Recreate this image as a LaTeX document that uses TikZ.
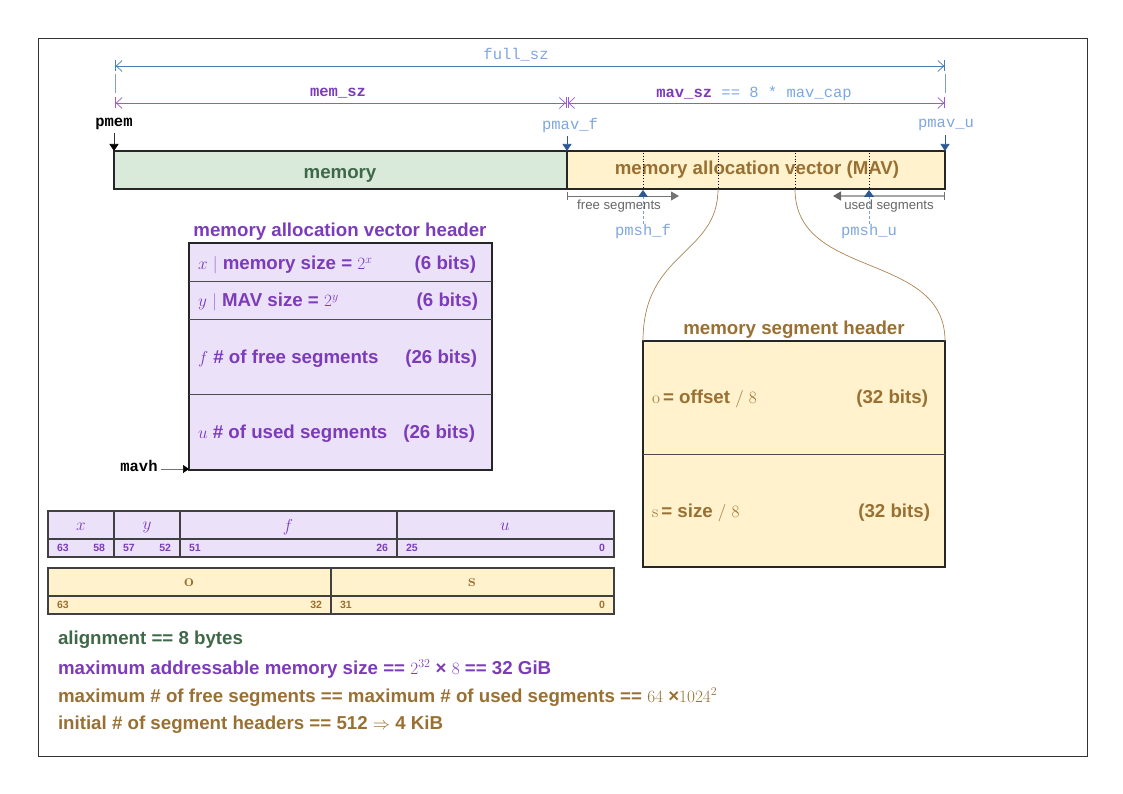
\documentclass[tikz,border=0pt]{standalone}
\usepackage[no-math]{fontspec}
\setmainfont{Liberation Sans}
\setmonofont{Liberation Mono}
\usetikzlibrary{arrows.meta, positioning, calc}

\definecolor{mavpurple}{RGB}{124,60,186}
\definecolor{barpurple}{RGB}{150,105,205}
\definecolor{dimpurple}{RGB}{155,89,208}
\definecolor{ptrblue}{RGB}{126,166,224}
\definecolor{dimblue}{RGB}{74,122,176}
\definecolor{tipblue}{RGB}{44,88,148}
\definecolor{segbrown}{RGB}{153,112,51}
\definecolor{curvebrown}{RGB}{170,132,84}
\definecolor{memgreen}{RGB}{62,104,72}
\definecolor{memfill}{RGB}{217,234,219}
\definecolor{mavfill}{RGB}{255,242,204}
\definecolor{hdrfill}{RGB}{235,226,250}

\begin{document}
\begin{tikzpicture}[x=1pt, y=-1pt,
    every node/.style={inner sep=0pt, outer sep=0pt},
    bigtxt/.style={font=\fontsize{18.7}{22}\selectfont\bfseries, yshift=-2pt},
    numtxt/.style={font=\fontsize{10.5}{12}\selectfont\bfseries},
    codetxt/.style={font=\fontsize{15.5}{18}\selectfont\ttfamily},
    dimline/.style={line width=0.7pt, {Bar[width=11pt]Straight Barb[length=6pt,width=11pt]}-{Straight Barb[length=6pt,width=11pt]Bar[width=11pt]}},
    ptrline/.style={line width=0.7pt, -{Triangle[length=7pt,width=9pt]}},
    block/.style={draw=black!85, line width=1.6pt, anchor=north west},
    cell/.style={draw=black!75, line width=1.2pt}
  ]
  \useasboundingbox (0,0) rectangle (1123,794);
  \draw[black!80, line width=0.9pt] (38,38) rectangle (1087,756);

  % sizes
  \coordinate (fullL) at (115,66);
  \coordinate (fullR) at (945,66);
  \coordinate (memL) at (115,103);
  \coordinate (memR) at (566.5,103);
  \coordinate (mavL) at (567.5,103);
  \coordinate (mavR) at (945,103);
  \draw[dimline, dimblue] (fullL) -- (fullR);
  \draw[ptrblue!80!gray, line width=0.6pt] ($(fullL)+(0,8)$) -- ($(memL)+(0,-10)$);
  \draw[ptrblue!80!gray, line width=0.6pt] ($(fullR)+(0,8)$) -- ($(mavR)+(0,-10)$);
  \draw[dimline, dimpurple] (memL) -- (memR);
  \draw[dimline, dimpurple] (mavL) -- (mavR);
  \node[codetxt, text=ptrblue] (fullsz) at (516,55) {full\_sz};
  \node[codetxt, text=mavpurple, font=\fontsize{15.5}{18}\selectfont\ttfamily\bfseries] (memsz) at (338,93) {mem\_sz};
  \node[codetxt, text=ptrblue] (mavsz) at (754,93) {{\bfseries\color{mavpurple}mav\_sz} == 8 * mav\_cap};

  % memory bar
  \node[block, fill=memfill, minimum width=453pt, minimum height=38pt] (mem) at (114,151) {};
  \node[block, fill=mavfill, minimum width=378pt, minimum height=38pt] (mav) at (567,151) {};
  \node[bigtxt, text=memgreen] (memlbl) at (340,173) {memory};
  \node[bigtxt, text=segbrown] (mavlbl) at (757,168) {memory allocation vector (MAV)};
  \foreach \dx in {643,718,795,869}
    \draw[dotted, line width=0.8pt] (\dx,153) -- (\dx,188);

  % pointers
  \node[codetxt, font=\fontsize{15.5}{18}\selectfont\ttfamily\bfseries] (pmem) at (114,124) {pmem};
  \node[codetxt, text=ptrblue] (pmavf) at (570,125) {pmav\_f};
  \node[codetxt, text=ptrblue] (pmavu) at (946,125) {pmav\_u};
  \draw[ptrline, black!80, -{Triangle[black, length=7pt, width=9pt]}] ($(pmem.south)+(0,3)$) -- (mem.north west);
  \draw[ptrline, tipblue] (mav.north west |- pmavf.south) ++(0,4) -- (mav.north west);
  \draw[ptrline, tipblue] (mav.north east |- pmavu.south) ++(0,4) -- (mav.north east);

  % free / used segments
  \coordinate (freeL) at (567,196);
  \coordinate (freeR) at (679,196);
  \coordinate (usedL) at (833,196);
  \coordinate (usedR) at (945,196);
  \draw[black!55, line width=0.8pt, {Bar[width=8pt]}-{Triangle[length=8pt,width=9pt]}] (freeL) -- (freeR);
  \draw[black!35, line width=1.3pt, {Triangle[black!60,length=8pt,width=9pt]}-{Bar[black!55,width=8pt]}] (usedL) -- (usedR);
  \node[font=\fontsize{13.2}{15}\selectfont, text=black!60] (freetxt) at (619,206) {free segments};
  \node[font=\fontsize{13.2}{15}\selectfont, text=black!60] (usedtxt) at (889,206) {used segments};
  \coordinate (slotf) at (643,190);
  \coordinate (slotu) at (869,190);
  \node[codetxt, text=ptrblue] (pmshf) at (643,231) {pmsh\_f};
  \node[codetxt, text=ptrblue] (pmshu) at (869,231) {pmsh\_u};
  \draw[ptrblue!80!gray, line width=0.8pt, dash pattern=on 3pt off 2pt, -{Triangle[tipblue, length=7pt, width=10pt]}] (pmshf.north) -- (slotf);
  \draw[ptrblue!80!gray, line width=0.8pt, dash pattern=on 3pt off 2pt, -{Triangle[tipblue, length=7pt, width=10pt]}] (pmshu.north) -- (slotu);

  % memory allocation vector header
  \node[bigtxt, text=mavpurple] (mavtitle) at (340,230) {memory allocation vector header};
  \node[block, fill=hdrfill, minimum width=303pt, minimum height=227pt] (mavhdr) at (189,243) {};
  \foreach \dy in {281,319,394}
    \draw[black!70, line width=1pt] (189,\dy) -- (492,\dy);
  \node[bigtxt, text=mavpurple, anchor=west] (hx) at (198,263) {$x$ {\color{barpurple}$|$} memory size = $2^x$};
  \node[bigtxt, text=mavpurple, anchor=east] (hxbits) at (476,263) {(6 bits)};
  \node[bigtxt, text=mavpurple, anchor=west] (hy) at (198,300) {$y$ {\color{barpurple}$|$} MAV size = $2^y$};
  \node[bigtxt, text=mavpurple, anchor=east] (hybits) at (478,300) {(6 bits)};
  \node[bigtxt, text=mavpurple, anchor=west] (hf) at (198,357) {$f$ \# of free segments};
  \node[bigtxt, text=mavpurple, anchor=east] (hfbits) at (477,357) {(26 bits)};
  \node[bigtxt, text=mavpurple, anchor=west] (hu) at (198,432) {$u$ \# of used segments};
  \node[bigtxt, text=mavpurple, anchor=east] (hubits) at (475,432) {(26 bits)};
  \node[codetxt, font=\fontsize{15.5}{18}\selectfont\ttfamily\bfseries] (mavh) at (139,466) {mavh};
  \draw[black!55, line width=0.7pt, -{Triangle[black, length=6pt, width=8pt]}] ($(mavh.east |- mavhdr.south west)+(3,-1)$) -- ($(mavhdr.south west)+(0,-1)$);

  % memory segment header
  \node[bigtxt, text=segbrown] (segtitle) at (794,328) {memory segment header};
  \node[block, fill=mavfill, minimum width=302pt, minimum height=226pt] (seghdr) at (643,341) {};
  \draw[black!70, line width=1pt] (643,454) -- (945,454);
  \node[bigtxt, text=segbrown, anchor=west] (so) at (652,397) {$\mathrm{o}$\,= offset $/\ 8$};
  \node[bigtxt, text=segbrown, anchor=east] (sobits) at (928,397) {(32 bits)};
  \node[bigtxt, text=segbrown, anchor=west] (ss) at (652,511) {$\mathrm{s}$\,= size $/\ 8$};
  \node[bigtxt, text=segbrown, anchor=east] (ssbits) at (930,511) {(32 bits)};
  \coordinate (cutL) at (718,189);
  \coordinate (cutR) at (795,189);
  \draw[curvebrown, line width=0.7pt] (cutL) .. controls +(0,66) and +(0,-90) .. (seghdr.north west);
  \draw[curvebrown, line width=0.7pt] (cutR) .. controls +(0,91) and +(0,-90) .. (seghdr.north east);

  % bit layouts
  \node[cell, fill=hdrfill, minimum width=566pt, minimum height=46pt, anchor=north west] (bitsh) at (48,511) {};
  \draw[cell] (48,539) -- (614,539);
  \foreach \cx in {114,180,397}
    \draw[cell] (\cx,511) -- (\cx,557);
  \foreach \cx/\lbl in {81/x, 147/y, 288/f, 505/u}
    \node[font=\fontsize{19}{22}\selectfont, text=mavpurple] (bit\lbl) at (\cx,527) {$\lbl$};
  \foreach \xa/\xb/\na/\nb in {48/114/63/58, 114/180/57/52, 180/397/51/26, 397/614/25/0} {
    \node[numtxt, text=mavpurple, anchor=west] (hn\na) at (\xa+9,548) {\na};
    \node[numtxt, text=mavpurple, anchor=east] (hn\nb) at (\xb-9,548) {\nb};
  }
  \node[cell, fill=mavfill, minimum width=566pt, minimum height=46pt, anchor=north west] (bitss) at (48,568) {};
  \draw[cell] (48,596) -- (614,596);
  \draw[cell] (331,568) -- (331,614);
  \node[font=\fontsize{18}{20}\selectfont, text=segbrown] (bito) at (189,583) {$\mathbf{o}$};
  \node[font=\fontsize{18}{20}\selectfont, text=segbrown] (bits) at (472,583) {$\mathbf{s}$};
  \foreach \xa/\xb/\na/\nb in {48/331/63/32, 331/614/31/0} {
    \node[numtxt, text=segbrown, anchor=west] (sn\na) at (\xa+9,605) {\na};
    \node[numtxt, text=segbrown, anchor=east] (sn\nb) at (\xb-9,605) {\nb};
  }

  % notes
  \node[bigtxt, text=memgreen, anchor=west] (note1) at (58,638) {alignment == 8 bytes};
  \node[bigtxt, text=mavpurple, anchor=west] (note2) at (58,667) {maximum addressable memory size == $2^{32}$ × $8$ == 32 GiB};
  \node[bigtxt, text=segbrown, anchor=west] (note3) at (58,695) {maximum \# of free segments == maximum \# of used segments == $64$ ×$1024^2$};
  \node[bigtxt, text=segbrown, anchor=west] (note4) at (58,723) {initial \# of segment headers == 512 $\Rightarrow$ 4 KiB};
\end{tikzpicture}
\end{document}
